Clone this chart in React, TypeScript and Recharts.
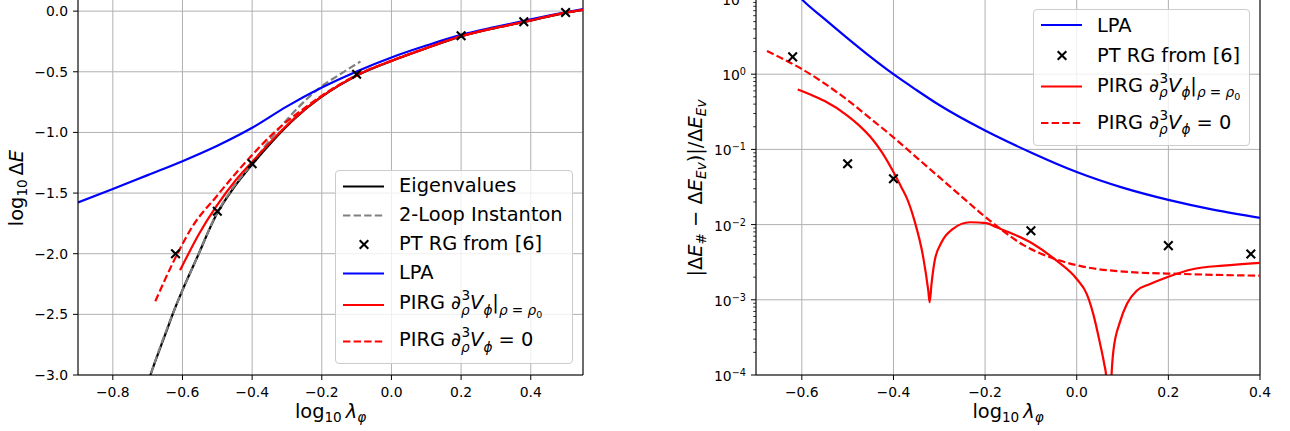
import React from 'react';
import { ComposedChart, Line, Scatter, XAxis, YAxis, CartesianGrid, ReferenceLine, Legend } from 'recharts';

const FONT = '"DejaVu Sans", Verdana, sans-serif';
const BLUE = '#0000ff';
const RED = '#ff0000';
const GRAY = '#808080';
const GRID = '#b0b0b0';
const DASH = '7.4 3.2';
const LW = 2.2;
const TICK_FS = 13.9;
const LABEL_FS = 19.4;
const SUB_FS = 13.6;

// ---------- left panel: log10 dE vs log10 lambda ----------
const eigX = [-0.7, -0.692, -0.65, -0.623, -0.6, -0.561, -0.5, -0.456, -0.4, -0.341, -0.274, -0.207, -0.15, -0.1, 0.0, 0.1, 0.2, 0.3, 0.38, 0.5, 0.55];
const eigY = [-3.07, -3.0, -2.67, -2.46, -2.3, -2.05, -1.665, -1.47, -1.265, -1.07, -0.876, -0.72, -0.612, -0.532, -0.411, -0.306, -0.208, -0.138, -0.09, -0.014, 0.01];

const instX = [-0.7, -0.692, -0.623, -0.561, -0.5, -0.456, -0.4, -0.341, -0.274, -0.207, -0.15, -0.089];
const instY = [-3.07, -3.0, -2.46, -2.05, -1.66, -1.46, -1.255, -1.033, -0.813, -0.634, -0.525, -0.415];

const ptX = [-0.62, -0.5, -0.4, -0.1, 0.2, 0.38, 0.5];
const ptY = [-2.0, -1.65, -1.258, -0.52, -0.203, -0.088, -0.011];

const lpaX = [-0.9, -0.8, -0.7, -0.6, -0.5, -0.4, -0.3, -0.2, -0.1, 0.0, 0.1, 0.2, 0.3, 0.4, 0.5, 0.55];
const lpaY = [-1.577, -1.467, -1.352, -1.237, -1.11, -0.962, -0.785, -0.63, -0.497, -0.382, -0.284, -0.196, -0.13, -0.068, -0.01, 0.016];

const pirgX = [-0.607, -0.551, -0.503, -0.446, -0.4, -0.341, -0.274, -0.207, -0.15, -0.1, 0.0, 0.1, 0.2, 0.3, 0.38, 0.5, 0.55];
const pirgY = [-2.137, -1.829, -1.61, -1.39, -1.243, -1.06, -0.872, -0.718, -0.61, -0.53, -0.41, -0.305, -0.207, -0.137, -0.089, -0.013, 0.011];

const pirg0X = [-0.678, -0.618, -0.571, -0.503, -0.446, -0.408, -0.327, -0.25, -0.2, -0.1, 0.0, 0.1, 0.2, 0.3, 0.38, 0.5, 0.55];
const pirg0Y = [-2.392, -2.02, -1.774, -1.53, -1.334, -1.211, -0.975, -0.8, -0.697, -0.528, -0.408, -0.304, -0.206, -0.137, -0.089, -0.013, 0.011];

const leftXTicks = [-0.8, -0.6, -0.4, -0.2, 0, 0.2, 0.4];
const leftYTicks = [-3, -2.5, -2, -1.5, -1, -0.5, 0];

// ---------- right panel: relative error (log scale) ----------
const lpaRelX = [-0.61, -0.6, -0.55, -0.5, -0.45, -0.4, -0.35, -0.3, -0.2, -0.1, 0.0, 0.1, 0.2, 0.3, 0.4];
const lpaRelY = [11.5, 9.9, 5.4, 3.0, 1.7, 1.0, 0.617, 0.389, 0.178, 0.091, 0.05, 0.031, 0.0213, 0.0157, 0.0123];

const ptRelX = [-0.62, -0.5, -0.4, -0.1, 0.2, 0.38];
const ptRelY = [1.7, 0.0645, 0.0407, 0.0083, 0.00525, 0.00407];

const pirgRelX = [-0.609, -0.58, -0.55, -0.5, -0.475, -0.45, -0.425, -0.4, -0.379, -0.372, -0.354, -0.335, -0.324, -0.321, -0.317, -0.31, -0.295, -0.27, -0.233, -0.197, -0.175, -0.139, -0.095, -0.044, 0.0, 0.022, 0.036, 0.051, 0.06, 0.064, 0.067, 0.07, 0.073, 0.076, 0.08, 0.095, 0.11, 0.131, 0.16, 0.197, 0.255, 0.32, 0.4];
const pirgRelY = [0.625, 0.532, 0.439, 0.28, 0.209, 0.146, 0.0912, 0.05, 0.0284, 0.0234, 0.0112, 0.00366, 0.00132, 0.00093, 0.00162, 0.00331, 0.00581, 0.00877, 0.01074, 0.01047, 0.0092, 0.0075, 0.00553, 0.00331, 0.00189, 0.00119, 0.00065, 0.00026, 0.00014, 0.0001, 0.00003, 0.000005, 0.00003, 0.0001, 0.00021, 0.00052, 0.00089, 0.00132, 0.00162, 0.002, 0.00257, 0.00285, 0.0031];

const pirg0RelX = [-0.676, -0.65, -0.6, -0.55, -0.5, -0.45, -0.4, -0.35, -0.3, -0.25, -0.211, -0.168, -0.117, -0.051, 0.007, 0.116, 0.226, 0.4];
const pirg0RelY = [2.03, 1.7, 1.17, 0.75, 0.452, 0.257, 0.1445, 0.0785, 0.0427, 0.0232, 0.01445, 0.0089, 0.00537, 0.00355, 0.00282, 0.00234, 0.00221, 0.00209];

const rightXTicks = [-0.6, -0.4, -0.2, 0, 0.2, 0.4];
const rightYMajor = [0.0001, 0.001, 0.01, 0.1, 1, 10];
const rightYMinor = rightYMajor.slice(0, -1).flatMap(m => [2, 3, 4, 5, 6, 7, 8, 9].map(k => m * k));
const rightYTicks = [...rightYMajor, ...rightYMinor];

type Pt = { x: number; y: number };
const zip = (xs: number[], ys: number[]): Pt[] => xs.map((x, i) => ({ x, y: ys[i] }));

const fmt = (v: number) => (v < -1e-9 ? '\u2212' : '') + Math.abs(v).toFixed(1);

const XMark = (props: any) => {
  const { cx, cy } = props;
  if (typeof cx !== 'number' || typeof cy !== 'number') return null;
  const r = 4.3;
  return (
    <path
      d={`M${cx - r},${cy - r}L${cx + r},${cy + r}M${cx - r},${cy + r}L${cx + r},${cy - r}`}
      stroke="#000"
      strokeWidth={2.1}
      fill="none"
    />
  );
};

// y tick for the log axis: majors get 10^n labels, minors only a short tick
const LogTick = (props: any) => {
  const { x, y, payload } = props;
  const v = payload.value as number;
  const spine = x + 9.5;
  const major = rightYMajor.some(m => Math.abs(m - v) / m < 1e-6);
  if (!major) {
    return <line x1={spine} x2={spine - 2.8} y1={y} y2={y} stroke="#000" strokeWidth={0.8} />;
  }
  const e = Math.round(Math.log10(v));
  return (
    <g>
      <line x1={spine} x2={spine - 5} y1={y} y2={y} stroke="#000" strokeWidth={1} />
      <text x={spine - 10} y={y + 6} textAnchor="end" fontFamily={FONT} fontSize={TICK_FS} fill="#000">
        10<tspan dy={-5} fontSize={9.7}>{e < 0 ? '\u2212' + Math.abs(e) : String(e)}</tspan>
      </text>
    </g>
  );
};

const axisTick = { fill: '#000', fontSize: TICK_FS, fontFamily: FONT };

const xLabel = (cx: number) => () => (
  <text x={cx} y={419} textAnchor="middle" fontFamily={FONT} fontSize={LABEL_FS} fill="#000">
    log<tspan fontSize={SUB_FS} dy={4}>10</tspan>
    <tspan dy={-4} fontStyle="italic">{'\u2009\u03bb'}</tspan>
    <tspan fontSize={SUB_FS} dy={4} fontStyle="italic">{'\u03c6'}</tspan>
  </text>
);

const leftYLabel = () => (
  <text transform="translate(22.7,189) rotate(-90)" textAnchor="middle" fontFamily={FONT} fontSize={LABEL_FS} fill="#000">
    log<tspan fontSize={SUB_FS} dy={4}>10</tspan>
    <tspan dy={-4}>{'\u2009\u0394'}</tspan>
    <tspan fontStyle="italic">E</tspan>
  </text>
);

const rightYLabel = () => (
  <text transform="translate(62,189) rotate(-90)" textAnchor="middle" fontFamily={FONT} fontSize={LABEL_FS} fill="#000">
    |{'\u0394'}<tspan fontStyle="italic">E</tspan>
    <tspan fontSize={SUB_FS} dy={4}>#</tspan>
    <tspan dy={-4}>{' \u2212 \u0394'}</tspan>
    <tspan fontStyle="italic">E</tspan>
    <tspan fontSize={SUB_FS} dy={4} fontStyle="italic">Ev</tspan>
    <tspan dy={-4}>{')|/\u0394'}</tspan>
    <tspan fontStyle="italic">E</tspan>
    <tspan fontSize={SUB_FS} dy={4} fontStyle="italic">Ev</tspan>
  </text>
);

// ---------- legend math ----------
const Sub = ({ children, italic }: { children: React.ReactNode; italic?: boolean }) => (
  <span style={{ fontSize: SUB_FS, position: 'relative', top: 5.7, fontStyle: italic ? 'italic' : 'normal' }}>{children}</span>
);

const SupSub = ({ sup, sub }: { sup: string; sub: string }) => (
  <span style={{ display: 'inline-block', position: 'relative', width: 9, height: 0 }}>
    <span style={{ position: 'absolute', left: 0.5, top: -20, fontSize: SUB_FS, lineHeight: 1 }}>{sup}</span>
    <span style={{ position: 'absolute', left: 0, top: -5.8, fontSize: SUB_FS, lineHeight: 1, fontStyle: 'italic' }}>{sub}</span>
  </span>
);

const PirgRho0 = () => (
  <span>
    PIRG <i>{'\u2202'}</i>
    <SupSub sup="3" sub={'\u03c1'} />
    <i>V</i>
    <Sub italic>{'\u03d5'}</Sub>|
    <span style={{ fontSize: SUB_FS, position: 'relative', top: 5.7 }}>
      <i>{'\u03c1'}</i> = <i>{'\u03c1'}</i>
      <span style={{ fontSize: 9.5, position: 'relative', top: 3 }}>0</span>
    </span>
  </span>
);

const PirgZero = () => (
  <span>
    PIRG <i>{'\u2202'}</i>
    <SupSub sup="3" sub={'\u03c1'} />
    <i>V</i>
    <Sub italic>{'\u03d5'}</Sub> = 0
  </span>
);

type LegendItem = { kind: 'solid' | 'dash' | 'x'; color: string; label: React.ReactNode; h: number };

const leftLegend: LegendItem[] = [
  { kind: 'solid', color: '#000', label: 'Eigenvalues', h: 29 },
  { kind: 'dash', color: GRAY, label: '2-Loop Instanton', h: 29 },
  { kind: 'x', color: '#000', label: 'PT RG from [6]', h: 29 },
  { kind: 'solid', color: BLUE, label: 'LPA', h: 29 },
  { kind: 'solid', color: RED, label: <PirgRho0 />, h: 34 },
  { kind: 'dash', color: RED, label: <PirgZero />, h: 39 },
];

const rightLegend: LegendItem[] = [
  { kind: 'solid', color: BLUE, label: 'LPA', h: 30 },
  { kind: 'x', color: '#000', label: 'PT RG from [6]', h: 31 },
  { kind: 'solid', color: RED, label: <PirgRho0 />, h: 31 },
  { kind: 'dash', color: RED, label: <PirgZero />, h: 42 },
];

const LegendBox = ({ items, padTop }: { items: LegendItem[]; padTop: number }) => (
  <div
    style={{
      boxSizing: 'border-box',
      width: '100%',
      height: '100%',
      border: '1px solid #cccccc',
      borderRadius: 4,
      background: 'rgba(255,255,255,0.8)',
      fontFamily: FONT,
      fontSize: LABEL_FS,
      color: '#000',
      paddingTop: padTop,
    }}
  >
    {items.map((it, i) => (
      <div key={i} style={{ position: 'relative', height: it.h }}>
        <svg width={52} height={it.h} style={{ position: 'absolute', left: 0, top: 0 }}>
          {it.kind === 'x' ? (
            <XMark cx={28} cy={it.h / 2} />
          ) : (
            <line
              x1={7}
              x2={48}
              y1={it.h / 2}
              y2={it.h / 2}
              stroke={it.color}
              strokeWidth={LW}
              strokeDasharray={it.kind === 'dash' ? DASH : undefined}
            />
          )}
        </svg>
        <div
          style={{
            position: 'absolute',
            left: 63,
            top: 0,
            height: it.h,
            display: 'flex',
            alignItems: 'center',
            lineHeight: `${LABEL_FS}px`,
            whiteSpace: 'nowrap',
          }}
        >
          <span>{it.label}</span>
        </div>
      </div>
    ))}
  </div>
);

const lineProps = { type: 'monotone' as const, dataKey: 'y', dot: false, activeDot: false, isAnimationActive: false, strokeWidth: LW };

const LeftPanel = () => (
  <ComposedChart width={600} height={432} margin={{ top: 0, right: 17, bottom: 0, left: 0 }}>
    <CartesianGrid stroke={GRID} strokeWidth={1} />
    <XAxis
      type="number"
      dataKey="x"
      domain={[-0.9, 0.55]}
      ticks={leftXTicks}
      interval={0}
      allowDataOverflow
      height={56}
      stroke="#000"
      tickSize={5}
      tickMargin={7}
      tick={axisTick}
      tickFormatter={fmt}
      label={xLabel(330.5)}
    />
    <YAxis
      type="number"
      dataKey="y"
      domain={[-3, 0.1]}
      ticks={leftYTicks}
      interval={0}
      allowDataOverflow
      width={78}
      stroke="#000"
      tickSize={5}
      tickMargin={5}
      tick={axisTick}
      tickFormatter={fmt}
      label={leftYLabel}
    />
    <ReferenceLine x={0.55} stroke="#000" strokeWidth={1} />
    <Line {...lineProps} data={zip(eigX, eigY)} stroke="#000" />
    <Line {...lineProps} data={zip(instX, instY)} stroke={GRAY} strokeDasharray={DASH} />
    <Line {...lineProps} data={zip(lpaX, lpaY)} stroke={BLUE} />
    <Line {...lineProps} data={zip(pirgX, pirgY)} stroke={RED} />
    <Line {...lineProps} data={zip(pirg0X, pirg0Y)} stroke={RED} strokeDasharray={DASH} />
    <Scatter data={zip(ptX, ptY)} shape={XMark} isAnimationActive={false} />
    <Legend
      layout="vertical"
      align="center"
      verticalAlign="middle"
      content={() => <LegendBox items={leftLegend} padTop={0.5} />}
      wrapperStyle={{ left: 335, top: 171, width: 238, height: 194 }}
    />
  </ComposedChart>
);

const RightPanel = () => (
  <ComposedChart width={640} height={432} margin={{ top: 0, right: 20, bottom: 0, left: 0 }}>
    <CartesianGrid stroke={GRID} strokeWidth={1} horizontalValues={rightYMajor} />
    <XAxis
      type="number"
      dataKey="x"
      domain={[-0.7, 0.4]}
      ticks={rightXTicks}
      interval={0}
      allowDataOverflow
      height={56}
      stroke="#000"
      tickSize={5}
      tickMargin={7}
      tick={axisTick}
      tickFormatter={fmt}
      label={xLabel(368)}
    />
    <YAxis
      type="number"
      dataKey="y"
      scale="log"
      domain={[0.0001, 10]}
      ticks={rightYTicks}
      interval={0}
      allowDataOverflow
      width={116}
      stroke="#000"
      tickSize={5}
      tickMargin={4.5}
      tickLine={false}
      tick={LogTick}
      label={rightYLabel}
    />
    <ReferenceLine x={0.4} stroke="#000" strokeWidth={1} />
    <Line {...lineProps} data={zip(lpaRelX, lpaRelY)} stroke={BLUE} />
    <Line {...lineProps} data={zip(pirgRelX, pirgRelY)} stroke={RED} />
    <Line {...lineProps} data={zip(pirg0RelX, pirg0RelY)} stroke={RED} strokeDasharray={DASH} />
    <Scatter data={zip(ptRelX, ptRelY)} shape={XMark} isAnimationActive={false} />
    <Legend
      layout="vertical"
      align="center"
      verticalAlign="middle"
      content={() => <LegendBox items={rightLegend} padTop={0} />}
      wrapperStyle={{ left: 393, top: 10.3, width: 217, height: 136.4 }}
    />
  </ComposedChart>
);

export default function App() {
  return (
    <div style={{ position: 'absolute', left: 0, top: 0, width: 1290, height: 431, overflow: 'hidden', background: '#fff' }}>
      <div style={{ position: 'absolute', left: 0, top: -1 }}>
        <LeftPanel />
      </div>
      <div style={{ position: 'absolute', left: 640, top: -1 }}>
        <RightPanel />
      </div>
    </div>
  );
}
